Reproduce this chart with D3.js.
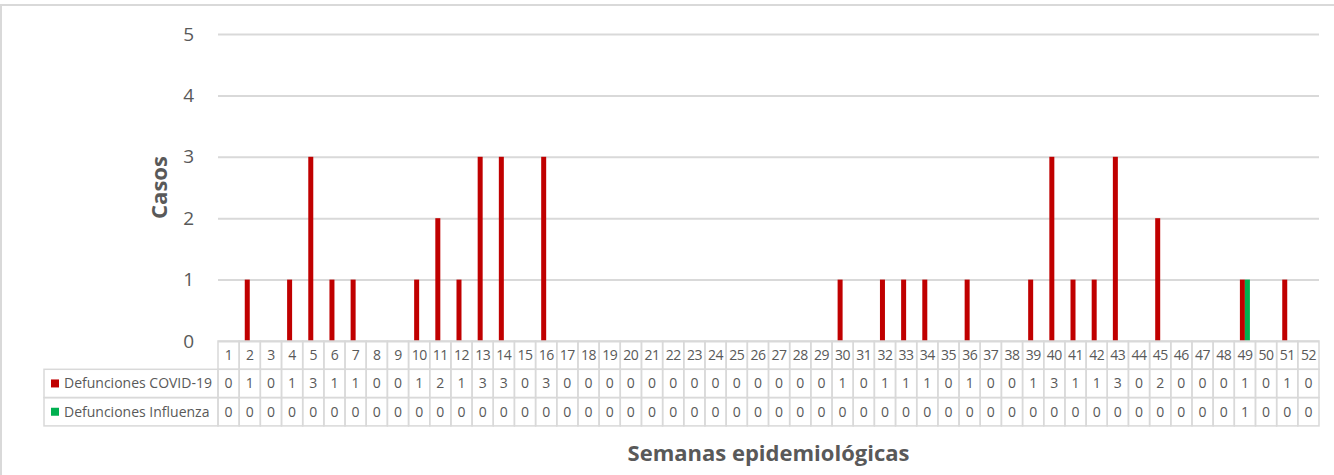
<!DOCTYPE html>
<html>
<head>
<meta charset="utf-8">
<script src="https://cdn.jsdelivr.net/npm/d3@7"></script>
<style>
  body { margin: 0; background: #fff; }
  svg { display: block; font-family: "Open Sans", sans-serif; }
</style>
</head>
<body>
<div class="chart"></div>
<script>
const weeks = d3.range(1, 53)
const covid = [0,1,0,1,3,1,1,0,0,1,2,1,3,3,0,3,0,0,0,0,0,0,0,0,0,0,0,0,0,1,0,1,1,1,0,1,0,0,1,3,1,1,3,0,2,0,0,0,1,0,1,0]
const influenza = [0,0,0,0,0,0,0,0,0,0,0,0,0,0,0,0,0,0,0,0,0,0,0,0,0,0,0,0,0,0,0,0,0,0,0,0,0,0,0,0,0,0,0,0,0,0,0,0,1,0,0,0]
const seriesNames = ["Defunciones COVID-19", "Defunciones Influenza"]
const seriesColors = ["#c00000", "#00b050"]
const yTicks = [0, 1, 2, 3, 4, 5]

const W = 1334, H = 475
const plot = {left: 218, right: 1319, top: 34, bottom: 341}
const rowH = 28.3
const legendLeft = 44
const textColor = "#595959"
const gridColor = "#d9d9d9"
const tableFont = 14

const series = [covid, influenza]
const data = weeks.map((w, i) => ({week: w, values: series.map((s, j) => ({name: seriesNames[j], value: s[i]}))}))

const svg = d3.select(".chart").append("svg")
    .attr("width", W)
    .attr("height", H)

// chart border (only top and left visible)
svg.append("rect")
    .attr("x", 1).attr("y", 5)
    .attr("width", W + 10).attr("height", H + 10)
    .attr("fill", "none")
    .attr("stroke", gridColor)
    .attr("stroke-width", 2)

// SCALES
const x = d3.scaleBand()
    .domain(weeks)
    .range([plot.left, plot.right])

const x1 = d3.scaleBand()
    .domain(seriesNames)
    .range([x.bandwidth() / 2 - 5, x.bandwidth() / 2 + 5])

const y = d3.scaleLinear()
    .domain([0, 5])
    .range([plot.bottom, plot.top])

// Y AXIS + GRIDLINES
const yAxis = d3.axisLeft(y)
    .tickValues(yTicks)
    .tickSize(-(plot.right - plot.left))
    .tickPadding(24)
    .tickFormat(d3.format("d"))

const gy = svg.append("g")
    .attr("transform", `translate(${plot.left},0)`)
    .call(yAxis)
gy.select(".domain").remove()
gy.selectAll(".tick line")
    .attr("stroke", gridColor)
    .attr("stroke-width", 2)
gy.selectAll(".tick text")
    .attr("fill", textColor)
    .attr("font-size", 19)
    .attr("font-family", "Open Sans, sans-serif")

// BARS
svg.append("g")
    .selectAll("g")
    .data(data)
    .join("g")
    .attr("transform", d => `translate(${x(d.week)},0)`)
    .selectAll("rect")
    .data(d => d.values.filter(v => v.value > 0))
    .join("rect")
    .attr("x", v => x1(v.name))
    .attr("width", x1.bandwidth())
    .attr("y", v => y(v.value))
    .attr("height", v => y(0) - y(v.value))
    .attr("fill", v => seriesColors[seriesNames.indexOf(v.name)])

// DATA TABLE
const table = svg.append("g")
const rowsY = [plot.bottom, plot.bottom + rowH, plot.bottom + 2 * rowH]

// week header row
table.append("g")
    .selectAll("rect")
    .data(weeks)
    .join("rect")
    .attr("x", d => x(d))
    .attr("y", rowsY[0])
    .attr("width", x.bandwidth())
    .attr("height", rowH)
    .attr("fill", "none")
    .attr("stroke", gridColor)
    .attr("stroke-width", 1.5)

table.append("g")
    .selectAll("text")
    .data(weeks)
    .join("text")
    .attr("x", d => x(d) + x.bandwidth() / 2)
    .attr("y", rowsY[0] + rowH / 2)
    .attr("dy", "0.35em")
    .attr("text-anchor", "middle")
    .attr("font-size", tableFont)
    .attr("letter-spacing", -0.5)
    .attr("fill", textColor)
    .text(d => d)

// series rows
series.forEach((s, j) => {
    const ry = rowsY[j + 1]
    const row = table.append("g")

    row.append("rect")
        .attr("x", legendLeft)
        .attr("y", ry)
        .attr("width", plot.left - legendLeft)
        .attr("height", rowH)
        .attr("fill", "none")
        .attr("stroke", gridColor)
        .attr("stroke-width", 1.5)

    row.append("rect")
        .attr("x", 51)
        .attr("y", ry + rowH / 2 - 4)
        .attr("width", 8)
        .attr("height", 8)
        .attr("fill", seriesColors[j])

    row.append("text")
        .attr("x", 64)
        .attr("y", ry + rowH / 2)
        .attr("dy", "0.35em")
        .attr("font-size", tableFont)
        .attr("fill", textColor)
        .text(seriesNames[j])

    row.selectAll("rect.cell")
        .data(weeks)
        .join("rect")
        .attr("class", "cell")
        .attr("x", d => x(d))
        .attr("y", ry)
        .attr("width", x.bandwidth())
        .attr("height", rowH)
        .attr("fill", "none")
        .attr("stroke", gridColor)
        .attr("stroke-width", 1.5)

    row.selectAll("text.val")
        .data(s)
        .join("text")
        .attr("class", "val")
        .attr("x", (d, i) => x(weeks[i]) + x.bandwidth() / 2)
        .attr("y", ry + rowH / 2)
        .attr("dy", "0.35em")
        .attr("text-anchor", "middle")
        .attr("font-size", tableFont)
        .attr("fill", textColor)
        .text(d => d)
})

// AXIS TITLES
svg.append("text")
    .attr("transform", `translate(159,${(plot.top + plot.bottom) / 2}) rotate(-90)`)
    .attr("text-anchor", "middle")
    .attr("dy", "0.35em")
    .attr("font-size", 22)
    .attr("font-weight", "bold")
    .attr("fill", textColor)
    .text("Casos")

svg.append("text")
    .attr("x", (plot.left + plot.right) / 2)
    .attr("y", 453)
    .attr("dy", "0.35em")
    .attr("text-anchor", "middle")
    .attr("font-size", 22)
    .attr("font-weight", "bold")
    .attr("fill", textColor)
    .text("Semanas epidemiológicas")
</script>
</body>
</html>
